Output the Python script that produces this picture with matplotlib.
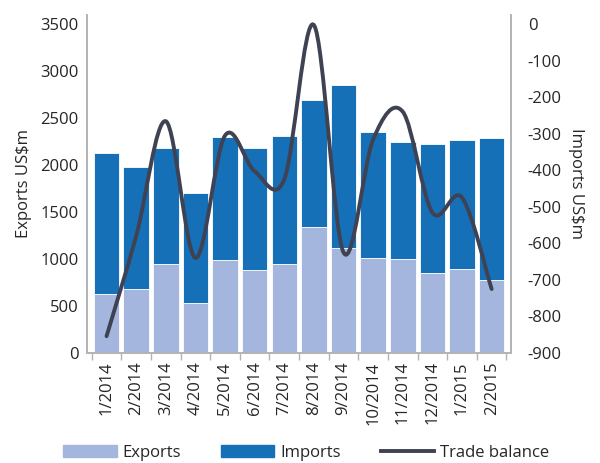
import matplotlib
matplotlib.use('Agg')
import matplotlib.pyplot as plt
import matplotlib.patches as patches
from matplotlib.path import Path
from matplotlib.lines import Line2D

months = ['1/2014', '2/2014', '3/2014', '4/2014', '5/2014', '6/2014', '7/2014',
          '8/2014', '9/2014', '10/2014', '11/2014', '12/2014', '1/2015', '2/2015']
exports = [632, 685, 950, 530, 993, 887, 947, 1342, 1112, 1014, 1000, 855, 890, 781]
imports = [1500, 1290, 1229, 1176, 1306, 1292, 1362, 1346, 1734, 1338, 1250, 1370, 1381, 1507]
trade_balance = [-854, -580, -266, -640, -305, -403, -425, -3, -625, -316, -240, -516, -475, -725]

EXP_COLOR = '#a4b6dd'
IMP_COLOR = '#1570b8'
LINE_COLOR = '#3f4252'
SPINE_COLOR = '#b4b4b4'
TEXT_COLOR = '#262626'

plt.rcParams['font.family'] = ['Open Sans', 'DejaVu Sans']
plt.rcParams['font.size'] = 12
plt.rcParams['axes.unicode_minus'] = False


def smooth_path(xs, ys, k=1 / 6):
    # Excel-style smoothed line: cubic bezier segments (Catmull-Rom control points)
    pts = list(zip(xs, ys))
    verts = [pts[0]]
    codes = [Path.MOVETO]
    n = len(pts)
    for i in range(n - 1):
        p0 = pts[i - 1] if i > 0 else pts[i]
        p1 = pts[i]
        p2 = pts[i + 1]
        p3 = pts[i + 2] if i + 2 < n else pts[i + 1]
        c1 = (p1[0] + (p2[0] - p0[0]) * k, p1[1] + (p2[1] - p0[1]) * k)
        c2 = (p2[0] - (p3[0] - p1[0]) * k, p2[1] - (p3[1] - p1[1]) * k)
        verts += [c1, c2, p2]
        codes += [Path.CURVE4] * 3
    return Path(verts, codes)


def main() -> None:
    fig = plt.figure(figsize=(6, 4.63), dpi=100)
    ax = fig.add_axes([0.145, 0.2376, 0.707, 0.73])
    x = list(range(len(months)))

    ax.bar(x, exports, width=0.86, color=EXP_COLOR, edgecolor='white', linewidth=0.6, zorder=2)
    ax.bar(x, imports, width=0.86, bottom=exports, color=IMP_COLOR, edgecolor='white',
           linewidth=0.6, zorder=2)

    ax.set_xlim(-0.66, 13.66)
    ax.set_ylim(0, 3596)
    ax.set_yticks(range(0, 3501, 500))
    ax.set_xticks(x)
    ax.set_xticklabels(months, rotation=90)
    ax.set_xticks([i - 0.5 for i in range(len(months) + 1)], minor=True)
    ax.tick_params(axis='x', which='major', length=0, pad=6, colors=TEXT_COLOR)
    ax.tick_params(axis='x', which='minor', length=5, color=SPINE_COLOR, width=1)
    ax.tick_params(axis='y', length=0, pad=6, colors=TEXT_COLOR)
    ax.set_ylabel('Exports US$m', color=TEXT_COLOR, labelpad=6)

    ax2 = ax.twinx()
    ax2.set_ylim(-900, 24.6)
    ax2.set_yticks(range(-900, 1, 100))
    ax2.tick_params(axis='y', length=0, pad=12, colors=TEXT_COLOR)
    ax2.set_ylabel('Imports US$m', rotation=270, color=TEXT_COLOR, labelpad=16)

    ax2.add_patch(patches.PathPatch(smooth_path(x, trade_balance), fill=False,
                                    edgecolor=LINE_COLOR, linewidth=2.8, capstyle='round'))

    for a in (ax, ax2):
        a.spines['top'].set_visible(False)
        for s in ('left', 'right', 'bottom'):
            a.spines[s].set_color(SPINE_COLOR)
            a.spines[s].set_linewidth(1.3)

    handles = [patches.Patch(color=EXP_COLOR), patches.Patch(color=IMP_COLOR),
               Line2D([], [], color=LINE_COLOR, linewidth=2.8)]
    fig.legend(handles, ['Exports', 'Imports', 'Trade balance'], loc='lower center',
               ncol=3, frameon=False, bbox_to_anchor=(0.51, -0.028), handlelength=3.2,
               handleheight=0.7, columnspacing=2.4, handletextpad=0.35,
               labelcolor=TEXT_COLOR)

    fig.savefig('out.png', dpi=100)


if __name__ == '__main__':
    main()
